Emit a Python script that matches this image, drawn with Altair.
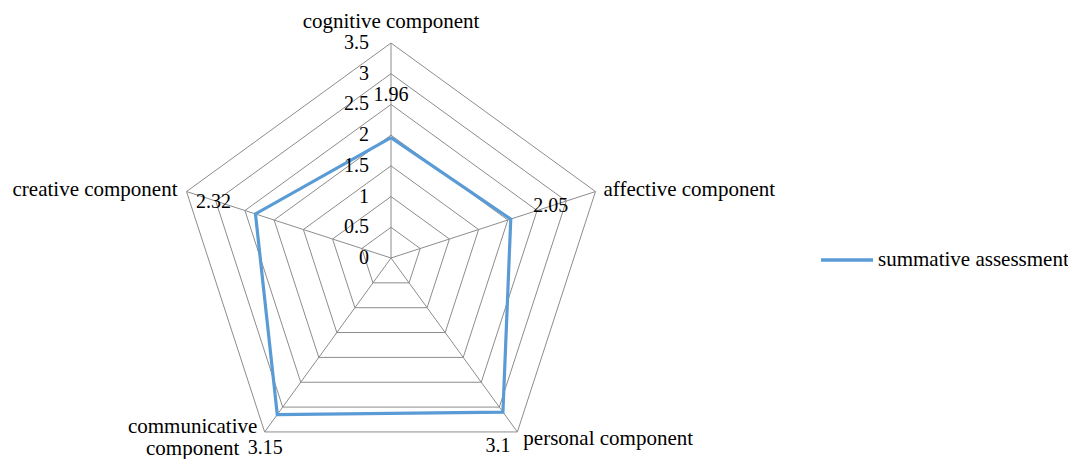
import altair as alt
import pandas as pd

# ---- data ----
categories = ["cognitive component", "affective component", "personal component",
              "communicative component", "creative component"]
values = [1.96, 2.05, 3.1, 3.15, 2.32]
series_name = "summative assessment"
levels = [0.5, 1, 1.5, 2, 2.5, 3, 3.5]
tick_values = [0, 0.5, 1, 1.5, 2, 2.5, 3, 3.5]
tick_labels = ["0", "0.5", "1", "1.5", "2", "2.5", "3", "3.5"]

# ---- layout ----
n = len(categories)
max_r = 3.5
W, H = 1060, 451
cx, cy = 383, 250          # centre of the radar inside the plot area (px)
R_px = 215                 # pixel radius of the outer ring
u = R_px / max_r
xd = [-cx / u, (W - cx) / u]
yd = [-(H - cy) / u, cy / u]

FONT = "Liberation Serif"
GRID = "#8c8c8c"
BLUE = "#5B9BD5"

ANG = f"datum.i*2*PI/{n}"
XC = f"datum.r*sin({ANG})"
YC = f"datum.r*cos({ANG})"

X = alt.X("x:Q", scale=alt.Scale(domain=xd), axis=None)
Y = alt.Y("y:Q", scale=alt.Scale(domain=yd), axis=None)

# rings
ring_rows = [{"level": lv, "i": i, "r": lv} for lv in levels for i in range(n + 1)]
ring_df = pd.DataFrame(ring_rows)
rings = alt.Chart(ring_df).transform_calculate(x=XC, y=YC).mark_line(
    color=GRID, strokeWidth=1).encode(x=X, y=Y, detail="level:N", order="i:Q")

# spokes
spoke_df = pd.DataFrame({"i": list(range(n)), "r": [max_r] * n})
spokes = alt.Chart(spoke_df).transform_calculate(x=XC, y=YC, x0="0", y0="0").mark_rule(
    color=GRID, strokeWidth=1).encode(x=X, y=Y, x2="x0:Q", y2="y0:Q")

# series line (closed)
ser_df = pd.DataFrame({"i": list(range(n)) + [n], "r": values + [values[0]],
                       "series": [series_name] * (n + 1)})
line = alt.Chart(ser_df).transform_calculate(x=XC, y=YC).mark_line(
    strokeWidth=3.2).encode(
    x=X, y=Y, order="i:Q",
    color=alt.Color("series:N", scale=alt.Scale(domain=[series_name], range=[BLUE]),
                    legend=alt.Legend(title=None, orient="none", legendX=811, legendY=224,
                                      symbolType="stroke", symbolSize=2704,
                                      symbolStrokeWidth=3.5, labelFont=FONT,
                                      labelFontSize=21, labelColor="black",
                                      labelLimit=400, padding=0, labelOffset=3)))

# tick labels
tick_df = pd.DataFrame({"r": tick_values, "lab": tick_labels, "i": [0] * len(tick_values)})
ticks = alt.Chart(tick_df).transform_calculate(x=XC, y=YC).mark_text(
    align="right", baseline="middle", dx=-22, font=FONT, fontSize=20, color="black").encode(
    x=X, y=Y, text="lab:N")

# category labels
cat_df = pd.DataFrame({"i": list(range(n)), "r": [max_r] * n, "cat": categories})
cat_style = [
    dict(align="center", baseline="alphabetic", dx=0, dy=-15),
    dict(align="left", baseline="alphabetic", dx=8, dy=4),
    dict(align="left", baseline="alphabetic", dx=6, dy=13),
    dict(align="center", baseline="alphabetic", dx=-72, dy=1, lineBreak=" ", lineHeight=22),
    dict(align="right", baseline="alphabetic", dx=-9, dy=4),
]
cat_layers = []
for k in range(n):
    cat_layers.append(
        alt.Chart(cat_df).transform_filter(f"datum.i == {k}").transform_calculate(x=XC, y=YC)
        .mark_text(font=FONT, fontSize=21, color="black", **cat_style[k])
        .encode(x=X, y=Y, text="cat:N"))

# data labels
val_df = pd.DataFrame({"i": list(range(n)), "r": values,
                       "lab": [f"{v:g}" for v in values]})
val_off = [(0, -43), (40, -13), (-5, 34), (-12, 33), (-42, -12)]
val_layers = []
for k in range(n):
    val_layers.append(
        alt.Chart(val_df).transform_filter(f"datum.i == {k}").transform_calculate(x=XC, y=YC)
        .mark_text(font=FONT, fontSize=20, color="black", align="center", baseline="middle",
                   dx=val_off[k][0], dy=val_off[k][1])
        .encode(x=X, y=Y, text="lab:N"))

chart = alt.layer(rings, spokes, line, ticks, *cat_layers, *val_layers).properties(
    width=W, height=H, padding=0, autosize=alt.AutoSizeParams(type="none"),
    background="white"
).configure_view(stroke=None)

chart.save("out.html", embed_options={"renderer": "svg", "actions": False})
